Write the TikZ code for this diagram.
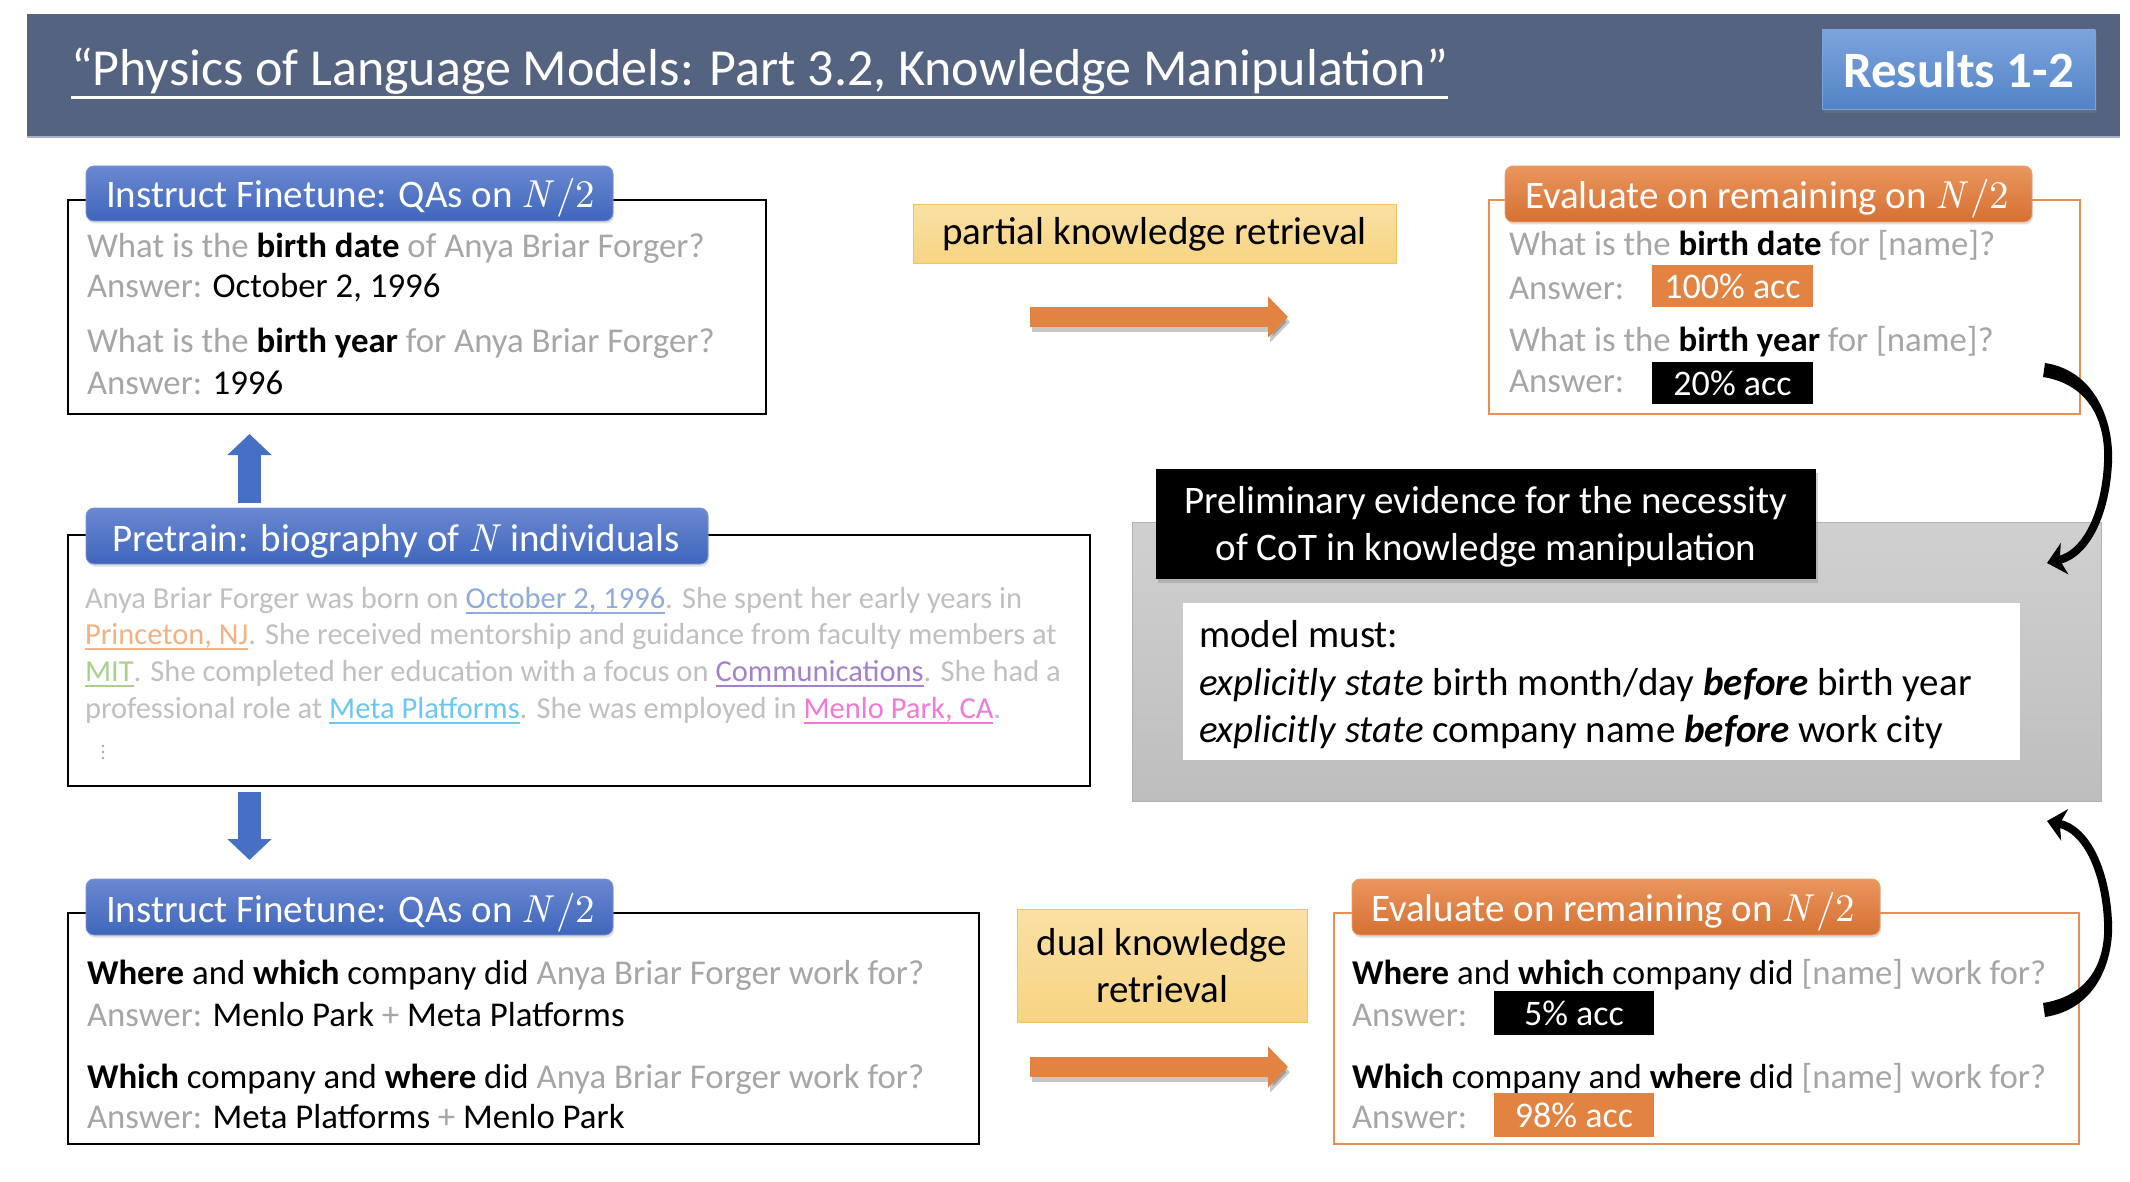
\documentclass[tikz,border=0pt]{standalone}
\usepackage{fontspec}
\setmainfont{Carlito}
\newfontfamily\lmr{lmroman10}[Extension=.otf, UprightFont=*-regular, ItalicFont=*-italic]
\usetikzlibrary{shadows,arrows.meta,calc}

\definecolor{hdr}{RGB}{84,99,128}
\definecolor{hdrEdge}{RGB}{165,176,198}
\definecolor{resTop}{RGB}{124,164,220}
\definecolor{resBot}{RGB}{82,131,199}
\definecolor{tabBlueTop}{RGB}{106,136,208}
\definecolor{tabBlueBot}{RGB}{63,102,188}
\definecolor{tabBlueEdge}{RGB}{120,150,215}
\definecolor{tabOrTop}{RGB}{233,150,94}
\definecolor{tabOrBot}{RGB}{214,112,50}
\definecolor{tabOrEdge}{RGB}{236,160,110}
\definecolor{evOrange}{RGB}{236,142,84}
\definecolor{accOrange}{RGB}{226,131,66}
\definecolor{arrBlue}{RGB}{70,112,196}
\definecolor{qgray}{RGB}{166,166,166}
\definecolor{biogray}{RGB}{192,192,192}
\definecolor{bioBlue}{RGB}{143,170,220}
\definecolor{bioOrange}{RGB}{244,177,131}
\definecolor{bioGreen}{RGB}{169,209,142}
\definecolor{bioPurple}{RGB}{166,128,200}
\definecolor{bioCyan}{RGB}{108,200,240}
\definecolor{bioPink}{RGB}{240,122,214}
\definecolor{noteTop}{RGB}{250,224,164}
\definecolor{noteBot}{RGB}{247,212,130}
\definecolor{noteEdge}{RGB}{242,196,90}
\definecolor{grayTop}{RGB}{208,208,208}
\definecolor{grayBot}{RGB}{190,190,190}
\definecolor{grayEdge}{RGB}{178,178,178}

\newcommand\setfs[1]{\fontsize{#1pt}{#1pt}\selectfont}
\newcommand\hlb[1]{\textbf{\textcolor{black}{#1}}}
\newcommand\hlk[1]{\textcolor{black}{#1}}
% coloured, underlined word in the biography
\newcommand\bioul[2]{{\color{#1}\setbox0\hbox{#2}\rlap{\rule[-5.5pt]{\wd0}{1.5pt}}\box0}}
\newcommand\varN{{\lmr\itshape N\/}}
\newcommand\halfN{\varN\kern1.5pt{\lmr/2}}

\begin{document}
\begin{tikzpicture}[x=1pt,y=-1pt,
  txt/.style={anchor=base west, inner sep=0pt, outer sep=0pt},
  box/.style={anchor=north west, inner sep=0pt, outer sep=0pt},
  panel/.style={box, draw=black, line width=1.6pt, fill=white},
  evpanel/.style={box, draw=evOrange, line width=1.4pt, fill=white},
  tabshape/.style={box, rounded corners=8pt, line width=0.8pt,
    drop shadow={shadow xshift=1pt, shadow yshift=-2.5pt, opacity=0.25}},
  bluetab/.style={tabshape, top color=tabBlueTop, bottom color=tabBlueBot, draw=tabBlueEdge},
  orangetab/.style={tabshape, top color=tabOrTop, bottom color=tabOrBot, draw=tabOrEdge},
  tabtext/.style={txt, text=white, font=\setfs{39}},
  qtext/.style={txt, text=qgray, font=\setfs{34.8}},
  biotext/.style={txt, text=biogray, font=\setfs{30.5}},
  accbox/.style={box, text=white, font=\setfs{36}, align=center},
  notebox/.style={box, top color=noteTop, bottom color=noteBot, draw=noteEdge, line width=1pt,
    align=center, font={\fontsize{39pt}{47pt}\selectfont}},
  blockarrow/.style={line width=20pt, draw=accOrange, -{Triangle[length=20pt,width=40pt]}},
  blockshadow/.style={line width=20pt, draw=black, opacity=0.22, -{Triangle[length=20pt,width=40pt]}},
  bluearrow/.style={line width=23pt, draw=arrBlue, -{Triangle[length=21pt,width=43pt]}},
  curvearrow/.style={line width=8pt, draw=black, line cap=butt,
    -{Stealth[length=18pt,width=32pt,inset=5pt]}},
  notetext/.style={txt, text=black, font=\setfs{39}}
]
\useasboundingbox (0,0) rectangle (2130,1182);

% ---- header band ----
\node[box, fill=hdr, minimum width=2093, minimum height=123] (header) at (27,14) {};
\draw[hdrEdge, line width=1.5pt] (header.south west) -- (header.south east);
\node[txt, text=white, font=\setfs{52}] (title) at (71,86)
  {“Physics of Language Models: Part 3.2, Knowledge Manipulation”};
\draw[white, line width=3pt] ($(title.base west)+(0,12)$) -- ($(title.base east)+(0,12)$);
\node[box, minimum width=273, minimum height=79, top color=resTop, bottom color=resBot,
  draw=resTop, line width=0.8pt, text=white, font=\bfseries\setfs{51},
  drop shadow={shadow xshift=2pt, shadow yshift=-4pt, opacity=0.35}] (results) at (1822,30) {Results 1-2};

% ---- top-left: instruct finetune on birth questions ----
\node[panel, minimum width=698, minimum height=214] (qa1) at (68,200) {};
\node[bluetab, minimum width=527, minimum height=55] (tabA) at (86,166) {};
\node[tabtext] (tabAtxt) at (106,208) {Instruct Finetune: QAs on \halfN};
\node[qtext] (qa1l1) at (87,258) {What is the \hlb{birth date} of Anya Briar Forger?};
\node[qtext] (qa1l2) at (87,298) {Answer: \hlk{October 2, 1996}};
\node[qtext] (qa1l3) at (87,352) {What is the \hlb{birth year} for Anya Briar Forger?};
\node[qtext] (qa1l4) at (87,394) {Answer: \hlk{1996}};

% ---- pretraining biographies ----
\node[panel, minimum width=1022, minimum height=251] (pre) at (68,535) {};
\node[bluetab, minimum width=622, minimum height=56] (tabP) at (86,508) {};
\node[tabtext] (tabPtxt) at (112,551) {Pretrain: biography of \varN{} individuals};
\node[biotext] (bio1) at (85,608) {Anya Briar Forger was born on \bioul{bioBlue}{October 2, 1996}. She spent her early years in};
\node[biotext] (bio2) at (85,644) {\bioul{bioOrange}{Princeton, NJ}. She received mentorship and guidance from faculty members at};
\node[biotext] (bio3) at (85,681) {\bioul{bioGreen}{MIT}. She completed her education with a focus on \bioul{bioPurple}{Communications}. She had a};
\node[biotext] (bio4) at (85,718) {professional role at \bioul{bioCyan}{Meta Platforms}. She was employed in \bioul{bioPink}{Menlo Park, CA}.};
% vertical ellipsis under the biography
\foreach \dy in {746,752,758} \fill[qgray] (103,\dy) circle (1.3);

% ---- bottom-left: instruct finetune on company questions ----
\node[panel, minimum width=911, minimum height=231] (qa2) at (68,913) {};
\node[bluetab, minimum width=527, minimum height=56] (tabB) at (86,879) {};
\node[tabtext] (tabBtxt) at (106,922) {Instruct Finetune: QAs on \halfN};
\node[qtext] (qa2l1) at (87,984) {\hlb{Where} \hlk{and} \hlb{which} \hlk{company did} Anya Briar Forger work for?};
\node[qtext] (qa2l2) at (87,1026) {Answer: \hlk{Menlo Park} + \hlk{Meta Platforms}};
\node[qtext] (qa2l3) at (87,1088) {\hlb{Which} \hlk{company and} \hlb{where} \hlk{did} Anya Briar Forger work for?};
\node[qtext] (qa2l4) at (87,1128) {Answer: \hlk{Meta Platforms} + \hlk{Menlo Park}};

% ---- flow arrows between the left panels ----
\coordinate (upS) at ($(tabP.north west)+(163.5,-5)$);
\coordinate (upE) at ($(qa1.south west)+(181.5,20)$);
\draw[bluearrow] (upS) -- (upE);
\coordinate (dnS) at ($(pre.south west)+(181.5,6)$);
\coordinate (dnE) at ($(tabB.north west)+(163.5,-19)$);
\draw[bluearrow] (dnS) -- (dnE);

% ---- retrieval labels and arrows ----
\node[notebox, minimum width=483, minimum height=59] (partial) at (913,205) {partial knowledge retrieval};
\coordinate (pA) at ($(partial.south west)+(117,53)$);
\coordinate (pB) at ($(partial.south west)+(375,53)$);
\draw[blockshadow] ($(pA)+(2,5)$) -- ($(pB)+(2,5)$);
\draw[blockarrow] (pA) -- (pB);

\node[notebox, minimum width=290, minimum height=113] (dual) at (1017,909) {dual knowledge\\retrieval};
\coordinate (dA) at ($(dual.south west)+(13,45)$);
\coordinate (dB) at ($(dual.south west)+(271,45)$);
\draw[blockshadow] ($(dA)+(2,5)$) -- ($(dB)+(2,5)$);
\draw[blockarrow] (dA) -- (dB);

% ---- top-right: evaluation on birth questions ----
\node[evpanel, minimum width=591, minimum height=214] (ev1) at (1489,200) {};
\node[orangetab, minimum width=527, minimum height=56] (tabE1) at (1505,166) {};
\node[tabtext] (tabE1txt) at (1525,209) {Evaluate on remaining on \halfN};
\node[qtext] (ev1l1) at (1509,256) {What is the \hlb{birth date} for [name]?};
\node[qtext] (ev1l2) at (1509,299) {Answer:};
\node[qtext] (ev1l3) at (1509,351) {What is the \hlb{birth year} for [name]?};
\node[qtext] (ev1l4) at (1509,392) {Answer:};
\node[accbox, fill=accOrange, minimum width=161, minimum height=42] (acc100) at (1652,265) {100\% acc};
\node[accbox, fill=black, minimum width=161, minimum height=42] (acc20) at (1652,362) {20\% acc};

% ---- bottom-right: evaluation on company questions ----
\node[evpanel, minimum width=745, minimum height=231] (ev2) at (1334,913) {};
\node[orangetab, minimum width=528, minimum height=56] (tabE2) at (1352,879) {};
\node[tabtext] (tabE2txt) at (1371,921) {Evaluate on remaining on \halfN};
\node[qtext] (ev2l1) at (1352,984) {\hlb{Where} \hlk{and} \hlb{which} \hlk{company did} [name] work for?};
\node[qtext] (ev2l2) at (1352,1026) {Answer:};
\node[qtext] (ev2l3) at (1352,1088) {\hlb{Which} \hlk{company and} \hlb{where} \hlk{did} [name] work for?};
\node[qtext] (ev2l4) at (1352,1128) {Answer:};
\node[accbox, fill=black, minimum width=160, minimum height=44] (acc5) at (1494,991) {5\% acc};
\node[accbox, fill=accOrange, minimum width=160, minimum height=44] (acc98) at (1494,1093) {98\% acc};

% ---- conclusion panel ----
\node[box, minimum width=969, minimum height=279, top color=grayTop, bottom color=grayBot,
  draw=grayEdge, line width=1pt] (concl) at (1132,522) {};
\node[box, minimum width=660, minimum height=110, fill=black,
  drop shadow={shadow xshift=2pt, shadow yshift=-4pt, opacity=0.35}] (conclHead) at (1156,469) {};
\node[text=white, align=center, inner sep=0pt, font={\fontsize{39pt}{47pt}\selectfont},
  yshift=-3pt] (conclHeadTxt) at (conclHead.center)
  {Preliminary evidence for the necessity\\of CoT in knowledge manipulation};
\node[box, fill=white, minimum width=837, minimum height=157] (rule) at (1183,603) {};
\node[notetext] (rule1) at (1199,647) {model must:};
\node[notetext] (rule2) at (1199,695) {\textit{explicitly state} birth month/day \textbf{\textit{before}} birth year};
\node[notetext] (rule3) at (1199,742) {\textit{explicitly state} company name \textbf{\textit{before}} work city};

% ---- curved arrows linking results to the conclusion (tapered tail, then arrow) ----
\coordinate (c1s) at ($(ev1.south east)+(-36,-44)$);
\coordinate (c1m) at (2108,463);
\coordinate (c1e) at ($(concl.north east)+(-54,41)$);
\fill[black] (2045,363) .. controls (2097,371) and (2114,424) .. (2112,463)
             -- (2104,463) .. controls (2106,427) and (2093,385) .. (2043,377) -- cycle;
\draw[curvearrow] ($(c1m)+(0,-1)$) .. controls (2106,510) and (2088,553) .. (c1e);

\coordinate (c2s) at ($(ev2.south east)+(-36,-134)$);
\coordinate (c2m) at (2108,921);
\coordinate (c2e) at ($(concl.south east)+(-54,20)$);
\fill[black] (2045,1017) .. controls (2097,1009) and (2114,960) .. (2112,921)
             -- (2104,921) .. controls (2106,957) and (2093,995) .. (2043,1003) -- cycle;
\draw[curvearrow] ($(c2m)+(0,1)$) .. controls (2106,874) and (2088,830) .. (c2e);
\end{tikzpicture}
\end{document}
